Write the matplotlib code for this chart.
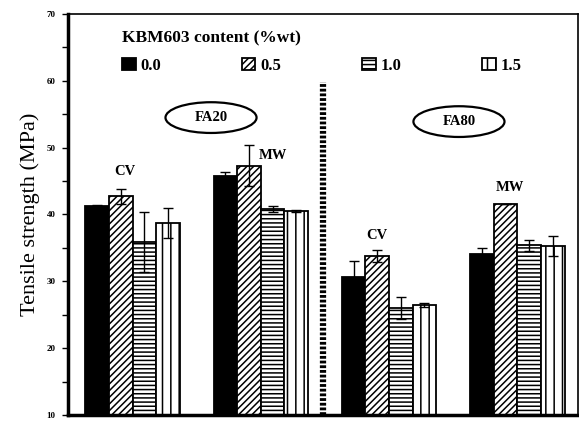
import matplotlib
matplotlib.use("Agg")
import matplotlib.pyplot as plt
from matplotlib.patches import Ellipse
import numpy as np

# values (MPa)
groups = ["CV", "MW", "CV", "MW"]
contents = ["0.0", "0.5", "1.0", "1.5"]
strength = {
    "0.0": [41.3, 45.7, 30.6, 34.1],
    "0.5": [42.7, 47.3, 33.8, 41.6],
    "1.0": [35.9, 40.8, 26.0, 35.4],
    "1.5": [38.7, 40.5, 26.4, 35.3],
}
errors = {
    "0.0": [0.15, 0.6, 2.4, 0.9],
    "0.5": [1.1, 3.1, 0.9, 0.0],
    "1.0": [4.5, 0.5, 1.6, 0.8],
    "1.5": [2.2, 0.1, 0.3, 1.5],
}
series_names = ["FA20", "FA80"]
yticks = [10, 20, 30, 40, 50, 60, 70]

plt.rcParams["font.family"] = ["Liberation Serif", "DejaVu Serif"]
plt.rcParams["hatch.linewidth"] = 1.1

styles = {
    "0.0": dict(color="black", hatch=None),
    "0.5": dict(color="white", hatch="/////"),
    "1.0": dict(color="white", hatch="----"),
    "1.5": dict(color="white", hatch="||"),
}

fig = plt.figure(figsize=(5.79, 4.21), dpi=100)
ax = fig.add_axes([68 / 579, 6 / 421, 510 / 579, 401 / 421])

x = np.arange(len(groups))
w = 0.184
for i, c in enumerate(contents):
    st = styles[c]
    ax.bar(x + (i - 1.5) * w, strength[c], w, bottom=0, color=st["color"],
           hatch=st["hatch"], edgecolor="black", linewidth=1.3, label=c,
           zorder=2)
    err = np.array(errors[c])
    ax.errorbar(x + (i - 1.5) * w, strength[c], yerr=err, fmt="none",
                ecolor="black", elinewidth=1.0, capsize=3.5, capthick=1.0,
                zorder=3)

# separator between FA20 and FA80
ax.plot([1.485, 1.485], [10, 59.9], color="black", lw=4.5,
        ls=(0, (0.45, 0.3)), zorder=1)

# group labels
label_pos = [(-0.058, 46.4), (1.095, 48.9), (1.906, 36.8), (2.94, 44.0)]
for g, (lx, ly) in zip(groups, label_pos):
    ax.text(lx, ly, g, ha="center", va="center", fontsize=10.5,
            fontweight="bold")

for name, (ex, ey) in zip(series_names, [(0.612, 54.5), (2.545, 53.9)]):
    ax.add_patch(Ellipse((ex, ey), 0.71, 4.6, facecolor="white",
                         edgecolor="black", lw=1.6, zorder=4))
    ax.text(ex, ey, name, ha="center", va="center", fontsize=10.5,
            fontweight="bold", zorder=5)

leg = ax.legend(ncol=4, loc="upper left", bbox_to_anchor=(0.09, 0.98),
                frameon=False, handlelength=0.8, handleheight=0.7,
                handletextpad=0.3, columnspacing=4.85, labelspacing=0.7,
                borderpad=0, title="KBM603 content (%wt)",
                title_fontproperties={"weight": "bold", "size": 12.5},
                alignment="left", prop={"weight": "bold", "size": 12})

ax.set_xlim(-0.503, 3.473)
ax.set_ylim(10, 70)
ax.set_xticks([])
ax.set_yticks(yticks)
ax.set_yticks(np.arange(15, 70, 10), minor=True)
ax.tick_params(axis="y", which="both", direction="out", length=4, width=1,
               labelsize=6.5, pad=5)
for t in ax.get_yticklabels():
    t.set_fontweight("bold")
ax.set_ylabel("Tensile strength (MPa)", fontsize=16, labelpad=5)

ax.spines["left"].set_linewidth(2.5)
ax.spines["bottom"].set_linewidth(2.5)
ax.spines["top"].set_linewidth(1.2)
ax.spines["right"].set_linewidth(1.2)

fig.savefig("out.png", dpi=100)
